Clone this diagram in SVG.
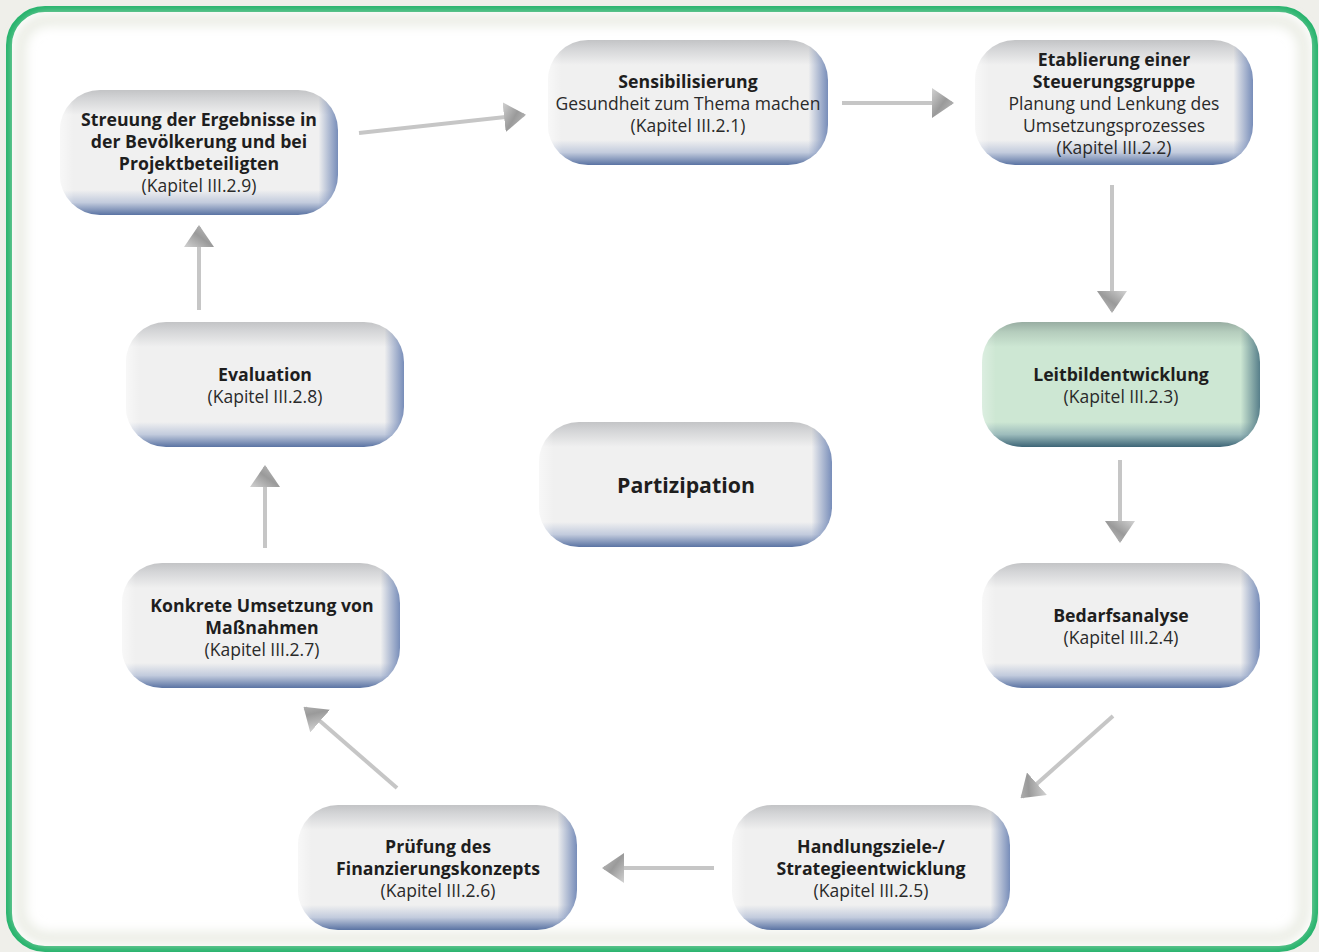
<svg xmlns="http://www.w3.org/2000/svg" width="1319" height="952" viewBox="0 0 1319 952">
<defs>
<linearGradient id="gv" x1="0" y1="0" x2="0" y2="1">
<stop offset="0" stop-color="#c3c4c6"/>
<stop offset="0.07" stop-color="#d4d5d7"/>
<stop offset="0.2" stop-color="#f0f0f0"/>
<stop offset="0.8" stop-color="#f0f0f0"/>
<stop offset="0.9" stop-color="#c2cbdd"/>
<stop offset="1" stop-color="#5a73a3"/>
</linearGradient>
<linearGradient id="gh" x1="0" y1="0" x2="1" y2="0">
<stop offset="0" stop-color="#ffffff" stop-opacity="0.5"/>
<stop offset="0.05" stop-color="#ffffff" stop-opacity="0"/>
<stop offset="0.93" stop-color="#6a82b3" stop-opacity="0"/>
<stop offset="1" stop-color="#6a82b3" stop-opacity="0.9"/>
</linearGradient>
<linearGradient id="gvg" x1="0" y1="0" x2="0" y2="1">
<stop offset="0" stop-color="#98ada2"/>
<stop offset="0.08" stop-color="#b5cdbd"/>
<stop offset="0.2" stop-color="#cde7d3"/>
<stop offset="0.8" stop-color="#cde7d3"/>
<stop offset="0.9" stop-color="#9dbcbc"/>
<stop offset="1" stop-color="#3d6577"/>
</linearGradient>
<linearGradient id="ghg" x1="0" y1="0" x2="1" y2="0">
<stop offset="0" stop-color="#ffffff" stop-opacity="0.3"/>
<stop offset="0.05" stop-color="#ffffff" stop-opacity="0"/>
<stop offset="0.93" stop-color="#4a7382" stop-opacity="0"/>
<stop offset="1" stop-color="#4a7382" stop-opacity="0.9"/>
</linearGradient>
<linearGradient id="ah" x1="0" y1="0" x2="1" y2="1">
<stop offset="0" stop-color="#d2d2d2"/>
<stop offset="0.5" stop-color="#9a9a9a"/>
<stop offset="1" stop-color="#c4c4c4"/>
</linearGradient>
<marker id="arr" viewBox="0 0 22 30" refX="20" refY="15" markerWidth="22" markerHeight="30" markerUnits="userSpaceOnUse" orient="auto">
<path d="M0,0 L22,15 L0,30 Z" fill="url(#ah)"/>
</marker>
<filter id="blur" x="-0.1" y="-0.1" width="1.2" height="1.2">
<feGaussianBlur stdDeviation="6"/>
</filter>
</defs>
<style>
.b{font-family:"Open Sans","Liberation Sans",sans-serif;font-weight:bold;font-size:17.7px;fill:#1e1e1e;text-anchor:middle}
.r{font-family:"Open Sans","Liberation Sans",sans-serif;font-size:17.5px;fill:#2a2a2a;text-anchor:middle}
.c{stroke:#c6c6c6;stroke-width:4;fill:none;marker-end:url(#arr)}
</style>
<rect x="0" y="0" width="1319" height="952" fill="#efefea"/>
<rect x="9" y="9" width="1306" height="940" rx="36" fill="#ffffff" stroke="#22b26a" stroke-width="6"/>
<rect x="20" y="20" width="1284" height="918" rx="28" fill="none" stroke="#e6e9df" stroke-width="10" filter="url(#blur)"/>

<g id="connectors">
<line class="c" x1="359" y1="133" x2="524" y2="115"/>
<line class="c" x1="842" y1="103" x2="952" y2="103"/>
<line class="c" x1="1112" y1="185" x2="1112" y2="311"/>
<line class="c" x1="1120" y1="460" x2="1120" y2="541"/>
<line class="c" x1="1113" y1="716" x2="1022" y2="797"/>
<line class="c" x1="714" y1="868" x2="604" y2="868"/>
<line class="c" x1="397" y1="788" x2="305" y2="708"/>
<line class="c" x1="265" y1="548" x2="265" y2="467"/>
<line class="c" x1="199" y1="310" x2="199" y2="227"/>
</g>

<g id="n1">
<rect x="60" y="90" width="278" height="125" rx="40" fill="url(#gv)"/>
<rect x="60" y="90" width="278" height="125" rx="40" fill="url(#gh)"/>
<text class="b" x="199" y="126">Streuung der Ergebnisse in</text>
<text class="b" x="199" y="148">der Bevölkerung und bei</text>
<text class="b" x="199" y="170">Projektbeteiligten</text>
<text class="r" x="199" y="192">(Kapitel III.2.9)</text>
</g>
<g id="n2">
<rect x="548" y="40" width="280" height="125" rx="40" fill="url(#gv)"/>
<rect x="548" y="40" width="280" height="125" rx="40" fill="url(#gh)"/>
<text class="b" x="688" y="88">Sensibilisierung</text>
<text class="r" x="688" y="110">Gesundheit zum Thema machen</text>
<text class="r" x="688" y="132">(Kapitel III.2.1)</text>
</g>
<g id="n3">
<rect x="975" y="40" width="278" height="125" rx="40" fill="url(#gv)"/>
<rect x="975" y="40" width="278" height="125" rx="40" fill="url(#gh)"/>
<text class="b" x="1114" y="66">Etablierung einer</text>
<text class="b" x="1114" y="88">Steuerungsgruppe</text>
<text class="r" x="1114" y="110">Planung und Lenkung des</text>
<text class="r" x="1114" y="132">Umsetzungsprozesses</text>
<text class="r" x="1114" y="154">(Kapitel III.2.2)</text>
</g>
<g id="n4">
<rect x="982" y="322" width="278" height="125" rx="40" fill="url(#gvg)"/>
<rect x="982" y="322" width="278" height="125" rx="40" fill="url(#ghg)"/>
<text class="b" x="1121" y="381">Leitbildentwicklung</text>
<text class="r" x="1121" y="403">(Kapitel III.2.3)</text>
</g>
<g id="n5">
<rect x="982" y="563" width="278" height="125" rx="40" fill="url(#gv)"/>
<rect x="982" y="563" width="278" height="125" rx="40" fill="url(#gh)"/>
<text class="b" x="1121" y="622">Bedarfsanalyse</text>
<text class="r" x="1121" y="644">(Kapitel III.2.4)</text>
</g>
<g id="n6">
<rect x="732" y="805" width="278" height="125" rx="40" fill="url(#gv)"/>
<rect x="732" y="805" width="278" height="125" rx="40" fill="url(#gh)"/>
<text class="b" x="871" y="853">Handlungsziele-/</text>
<text class="b" x="871" y="875">Strategieentwicklung</text>
<text class="r" x="871" y="897">(Kapitel III.2.5)</text>
</g>
<g id="n7">
<rect x="298" y="805" width="279" height="125" rx="40" fill="url(#gv)"/>
<rect x="298" y="805" width="279" height="125" rx="40" fill="url(#gh)"/>
<text class="b" x="438" y="853">Prüfung des</text>
<text class="b" x="438" y="875">Finanzierungskonzepts</text>
<text class="r" x="438" y="897">(Kapitel III.2.6)</text>
</g>
<g id="n8">
<rect x="122" y="563" width="278" height="125" rx="40" fill="url(#gv)"/>
<rect x="122" y="563" width="278" height="125" rx="40" fill="url(#gh)"/>
<text class="b" x="262" y="612">Konkrete Umsetzung von</text>
<text class="b" x="262" y="634">Maßnahmen</text>
<text class="r" x="262" y="656">(Kapitel III.2.7)</text>
</g>
<g id="n9">
<rect x="126" y="322" width="278" height="125" rx="40" fill="url(#gv)"/>
<rect x="126" y="322" width="278" height="125" rx="40" fill="url(#gh)"/>
<text class="b" x="265" y="381">Evaluation</text>
<text class="r" x="265" y="403">(Kapitel III.2.8)</text>
</g>
<g id="n10">
<rect x="539" y="422" width="293" height="125" rx="40" fill="url(#gv)"/>
<rect x="539" y="422" width="293" height="125" rx="40" fill="url(#gh)"/>
<text class="b" x="686" y="493" style="font-size:21.3px">Partizipation</text>
</g>
</svg>
